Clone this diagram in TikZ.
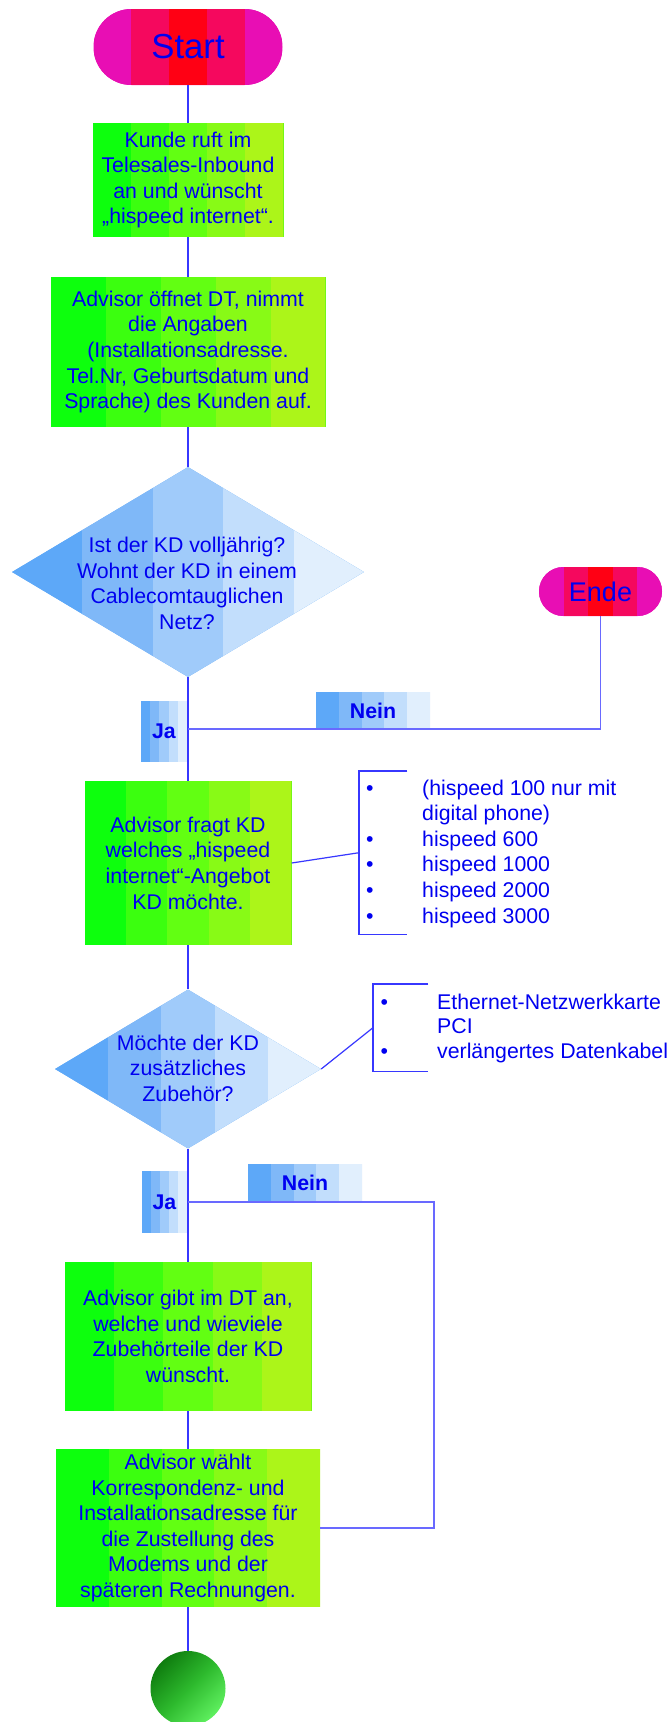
\documentclass[tikz,border=0pt]{standalone}
\usepackage{fontspec}
\setmainfont{Liberation Sans}
\usetikzlibrary{shapes.geometric,calc}

\definecolor{txt}{RGB}{0,0,240}
\definecolor{ln}{RGB}{55,55,255}
\definecolor{lnb}{RGB}{105,105,255}
\definecolor{g1}{RGB}{13,255,13}
\definecolor{g2}{RGB}{59,255,15}
\definecolor{g3}{RGB}{98,255,18}
\definecolor{g4}{RGB}{136,250,22}
\definecolor{g5}{RGB}{172,245,25}
\definecolor{bl1}{RGB}{93,168,248}
\definecolor{bl2}{RGB}{127,184,248}
\definecolor{bl3}{RGB}{160,203,250}
\definecolor{bl4}{RGB}{194,222,252}
\definecolor{bl5}{RGB}{225,239,253}
\definecolor{r1}{RGB}{232,14,180}
\definecolor{r2}{RGB}{245,8,94}
\definecolor{r3}{RGB}{255,0,20}
\definecolor{gd}{RGB}{15,125,15}
\definecolor{gm}{RGB}{45,185,45}
\definecolor{gl}{RGB}{95,240,95}

\tikzset{
  stripes/.style n args={5}{fill=#1, path picture={
    \foreach \col [count=\i from 0] in {#1,#2,#3,#4,#5}{
      \fill[\col, sharp corners] let \p1=(path picture bounding box.south west),
                      \p2=(path picture bounding box.north east) in
        ({\x1+\i*(\x2-\x1)/5},\y1) rectangle ({\x1+(\i+1)*(\x2-\x1)/5+0.6pt},\y2);
    }}},
  box/.style={rectangle, inner sep=2pt, align=center, text=txt,
    font={\fontsize{21.3}{25.6}\selectfont}, stripes={g1}{g2}{g3}{g4}{g5}},
  dia/.style={diamond, inner sep=0pt, stripes={bl1}{bl2}{bl3}{bl4}{bl5}},
  diatext/.style={align=center, text=txt, inner sep=0pt, font={\fontsize{21.3}{25.6}\selectfont}},
  term/.style={rectangle, inner sep=0pt, text=txt, stripes={r1}{r2}{r3}{r2}{r1}},
  tag/.style={rectangle, inner sep=0pt, text=txt, font={\fontsize{21.3}{25.6}\selectfont\bfseries},
    stripes={bl1}{bl2}{bl3}{bl4}{bl5}},
  listtext/.style={anchor=north west, inner sep=0pt, text=txt},
  conn/.style={draw=ln, line width=1.2pt},
  conn2/.style={draw=lnb, line width=1.5pt},
  brk/.style={draw=ln, line width=1.2pt},
}

\begin{document}
\begin{tikzpicture}[x=1pt, y=-1pt]
\useasboundingbox[fill=white] (0,0) rectangle (671,1722);

\node[term, rounded corners=37.9pt, minimum width=189pt, minimum height=76pt,
  font={\fontsize{34.7}{40}\selectfont}] (start) at (188,47) {Start};

\node[box, minimum width=191pt, minimum height=114pt] (b1) at (188,180)
  {Kunde ruft im\\Telesales-Inbound\\an und wünscht\\„hispeed internet“.};

\node[box, minimum width=275pt, minimum height=150pt] (b2) at (188,352)
  {Advisor öffnet DT, nimmt\\die Angaben\\(Installationsadresse.\\Tel.Nr, Geburtsdatum und\\Sprache) des Kunden auf.};

\node[dia, minimum width=352pt, minimum height=210pt] (d1) at (188,572) {};
\node[diatext] (d1t) at (187,583.5)
  {Ist der KD volljährig?\\Wohnt der KD in einem\\Cablecomtauglichen\\Netz?};

\node[term, rounded corners=24.4pt, minimum width=123pt, minimum height=49pt,
  font={\fontsize{27}{32}\selectfont}] (ende) at (600.5,591.5) {Ende};

\coordinate (j1) at (188,729);
\node[tag, minimum width=114pt, minimum height=38pt] (n1) at (373,711) {Nein};
\node[tag, minimum width=46pt, minimum height=61pt] (ja1) at (164,731.5) {Ja};

\node[box, minimum width=207pt, minimum height=164pt] (b3) at (188,863)
  {Advisor fragt KD\\welches „hispeed\\internet“-Angebot\\KD möchte.};

\node[inner sep=0pt, minimum width=48pt, minimum height=163pt, anchor=north west] (l1) at (359,771) {};
\node[listtext, font={\fontsize{21.3}{25.6}\selectfont}] (l1t) at (366,777)
  {\begin{tabular}{@{}p{56pt}@{}l@{}}
   •&(hispeed 100 nur mit\\
    &digital phone)\\
   •&hispeed 600\\
   •&hispeed 1000\\
   •&hispeed 2000\\
   •&hispeed 3000
   \end{tabular}};

\node[dia, minimum width=266pt, minimum height=159pt] (d2) at (188,1069) {};
\node[diatext] (d2t) at (188,1068) {Möchte der KD\\zusätzliches\\Zubehör?};

\node[inner sep=0pt, minimum width=55pt, minimum height=87pt, anchor=north west] (l2) at (373,984) {};
\node[listtext, font={\fontsize{21.3}{24.5}\selectfont}] (l2t) at (380.3,992)
  {\begin{tabular}{@{}p{56.7pt}@{}l@{}}
   •&Ethernet-Netzwerkkarte\\
    &PCI\\
   •&verlängertes Datenkabel
   \end{tabular}};

\coordinate (j2) at (188,1202);
\coordinate (r2) at (434,1202);
\node[tag, minimum width=114pt, minimum height=38pt] (n2) at (305,1183) {Nein};
\node[tag, minimum width=45pt, minimum height=62pt] (ja2) at (164.5,1202) {Ja};

\node[box, minimum width=247pt, minimum height=149pt] (b4) at (188,1336.5)
  {Advisor gibt im DT an,\\welche und wieviele\\Zubehörteile der KD\\wünscht.};

\node[box, minimum width=264pt, minimum height=158pt] (b5) at (188,1528)
  {Advisor wählt\\Korrespondenz- und\\Installationsadresse für\\die Zustellung des\\Modems und der\\späteren Rechnungen.};

\node[circle, inner sep=0pt, minimum size=75pt, top color=gd, bottom color=gl,
  middle color=gm, shading angle=45] (endc) at (188,1688.5) {};

% connectors
\draw[conn] (start.south) -- (b1.north);
\draw[conn] (b1.south) -- (b2.north);
\draw[conn] (b2.south) -- (d1.north);
\draw[conn] (d1.south) -- (b3.north);
\draw[conn] (b3.south) -- (d2.north);
\draw[conn] (d2.south) -- (b4.north);
\draw[conn] (b4.south) -- (b5.north);
\draw[conn] (b5.south) -- (endc.north);
\draw[conn2] (j1) -| (ende.south);
\draw[conn2] (j2) -- (r2) |- (b5.east);
\draw[conn] (b3.east) -- (l1.west);
\draw[conn] (d2.east) -- (l2.west);
\draw[brk] (l1.north east) -- (l1.north west) -- (l1.south west) -- (l1.south east);
\draw[brk] (l2.north east) -- (l2.north west) -- (l2.south west) -- (l2.south east);
\end{tikzpicture}
\end{document}
